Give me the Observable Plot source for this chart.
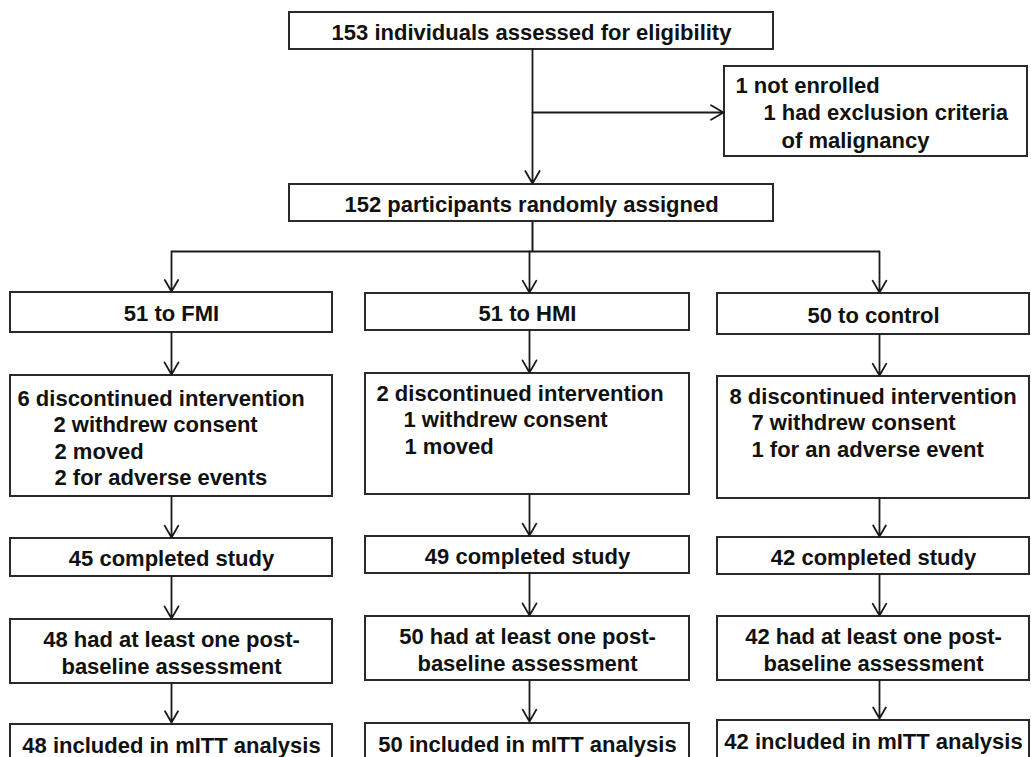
<!DOCTYPE html>
<html>
<head>
<meta charset="utf-8">
<script src="https://cdn.jsdelivr.net/npm/d3@7"></script>
<script src="https://cdn.jsdelivr.net/npm/@observablehq/plot@0.6"></script>
<style>
  html, body { margin: 0; padding: 0; background: #fff; }
  #chart svg { display: block; }
</style>
</head>
<body>
<div id="chart"></div>
<script>
// ---- Data (flow counts and labels) ----
const screened = "153 individuals assessed for eligibility";
const notEnrolled = ["1 not enrolled", "1 had exclusion criteria", "of malignancy"];
const randomized = "152 participants randomly assigned";
const arms = ["FMI", "HMI", "control"];
const allocated = [51, 51, 50];
const discontinued = [6, 2, 8];
const reasons = [
  ["2 withdrew consent", "2 moved", "2 for adverse events"],
  ["1 withdrew consent", "1 moved"],
  ["7 withdrew consent", "1 for an adverse event"]
];
const completed = [45, 49, 42];
const postBaseline = [48, 50, 42];
const mitt = [48, 50, 42];

// ---- Layout (pixel geometry of the flowchart) ----
const topBox = {x1: 289, x2: 773, y1: 12, y2: 49};
const exclBox = {x1: 724, x2: 1027, y1: 66, y2: 156};
const randBox = {x1: 289, x2: 773, y1: 184, y2: 221};
const spineX = 532, sideY = 112, branchY = 251;
const colX1 = [10, 365, 717];
const colX2 = [332, 689, 1029];
const colMid = [171, 529, 879];
const rowAlloc = [[292, 332], [293, 330], [293, 334]];
const rowDisc = [[375, 496], [373, 494], [376, 498]];
const rowComp = [[538, 576], [536, 573], [537, 574]];
const rowPost = [[619, 683], [616, 680], [616, 680]];
const rowItt = [[724, 770], [723, 770], [720, 770]];
const exclIndent = [11, 39, 57];
const exclBase = [92, 119, 147];
const headIndent = [7, 11, 12];
const reasonIndent = [43, 38, 34];
const discHeadOffset = [30, 27, 27];
const reasonStep = 26.5;

// ---- Build mark tables ----
const boxes = [topBox, exclBox, randBox];
arms.forEach((a, i) => {
  for (const r of [rowAlloc, rowDisc, rowComp, rowPost, rowItt]) {
    boxes.push({x1: colX1[i], x2: colX2[i], y1: r[i][0], y2: r[i][1]});
  }
});

const links = [
  {x1: spineX, y1: randBox.y2, x2: spineX, y2: branchY},
  {x1: colMid[0], y1: branchY, x2: colMid[2], y2: branchY}
];
const arrows = [
  {x1: spineX, y1: topBox.y2, x2: spineX, y2: randBox.y1 - 1},
  {x1: spineX, y1: sideY, x2: exclBox.x1 - 1, y2: sideY}
];
arms.forEach((a, i) => {
  const x = colMid[i];
  arrows.push({x1: x, y1: branchY, x2: x, y2: rowAlloc[i][0] - 1});
  arrows.push({x1: x, y1: rowAlloc[i][1], x2: x, y2: rowDisc[i][0] - 1});
  arrows.push({x1: x, y1: rowDisc[i][1], x2: x, y2: rowComp[i][0] - 1});
  arrows.push({x1: x, y1: rowComp[i][1], x2: x, y2: rowPost[i][0] - 1});
  arrows.push({x1: x, y1: rowPost[i][1], x2: x, y2: rowItt[i][0] - 2});
});

const centered = [
  {x: (topBox.x1 + topBox.x2) / 2, y: (topBox.y1 + topBox.y2) / 2, t: screened},
  {x: (randBox.x1 + randBox.x2) / 2, y: (randBox.y1 + randBox.y2) / 2, t: randomized}
];
arms.forEach((a, i) => {
  const cx = (colX1[i] + colX2[i]) / 2;
  centered.push({x: cx, y: (rowAlloc[i][0] + rowAlloc[i][1]) / 2, t: `${allocated[i]} to ${a}`});
  centered.push({x: cx, y: (rowComp[i][0] + rowComp[i][1]) / 2, t: `${completed[i]} completed study`});
  centered.push({x: cx, y: (rowPost[i][0] + rowPost[i][1]) / 2, t: `${postBaseline[i]} had at least one post-\nbaseline assessment`});
  centered.push({x: cx, y: rowItt[i][0] + 20, t: `${mitt[i]} included in mITT analysis`});
});

const leftText = notEnrolled.map((t, j) => ({x: exclBox.x1 + exclIndent[j], y: exclBase[j], t}));
arms.forEach((a, i) => {
  const hy = rowDisc[i][0] + discHeadOffset[i];
  leftText.push({x: colX1[i] + headIndent[i], y: hy, t: `${discontinued[i]} discontinued intervention`});
  reasons[i].forEach((t, j) => {
    leftText.push({x: colX1[i] + reasonIndent[i] + (j > 0 && i < 2 ? 1 : 0), y: hy + reasonStep * (j + 1), t});
  });
});

const font = {fontFamily: "'Liberation Sans', Arial, sans-serif", fontWeight: "bold", fontSize: 22, fill: "#111"};

const chart = Plot.plot({
  width: 1031,
  height: 757,
  margin: 0,
  x: {type: "linear", domain: [0, 1031], range: [0, 1031], axis: null},
  y: {type: "linear", domain: [0, 757], range: [0, 757], axis: null},
  marks: [
    Plot.rect(boxes, {x1: "x1", x2: "x2", y1: "y1", y2: "y2", fill: "white", stroke: "#2a2a2a", strokeWidth: 2}),
    Plot.link(links, {x1: "x1", y1: "y1", x2: "x2", y2: "y2", stroke: "#1a1a1a", strokeWidth: 2}),
    Plot.arrow(arrows, {x1: "x1", y1: "y1", x2: "x2", y2: "y2", stroke: "#1a1a1a", strokeWidth: 1.8, headLength: 12, headAngle: 60}),
    Plot.text(centered, {x: "x", y: "y", text: "t", textAnchor: "middle", lineAnchor: "middle", lineHeight: 1.22, ...font}),
    Plot.text(leftText, {x: "x", y: "y", text: "t", textAnchor: "start", lineAnchor: "bottom", ...font})
  ]
});
document.getElementById("chart").append(chart);
</script>
</body>
</html>
